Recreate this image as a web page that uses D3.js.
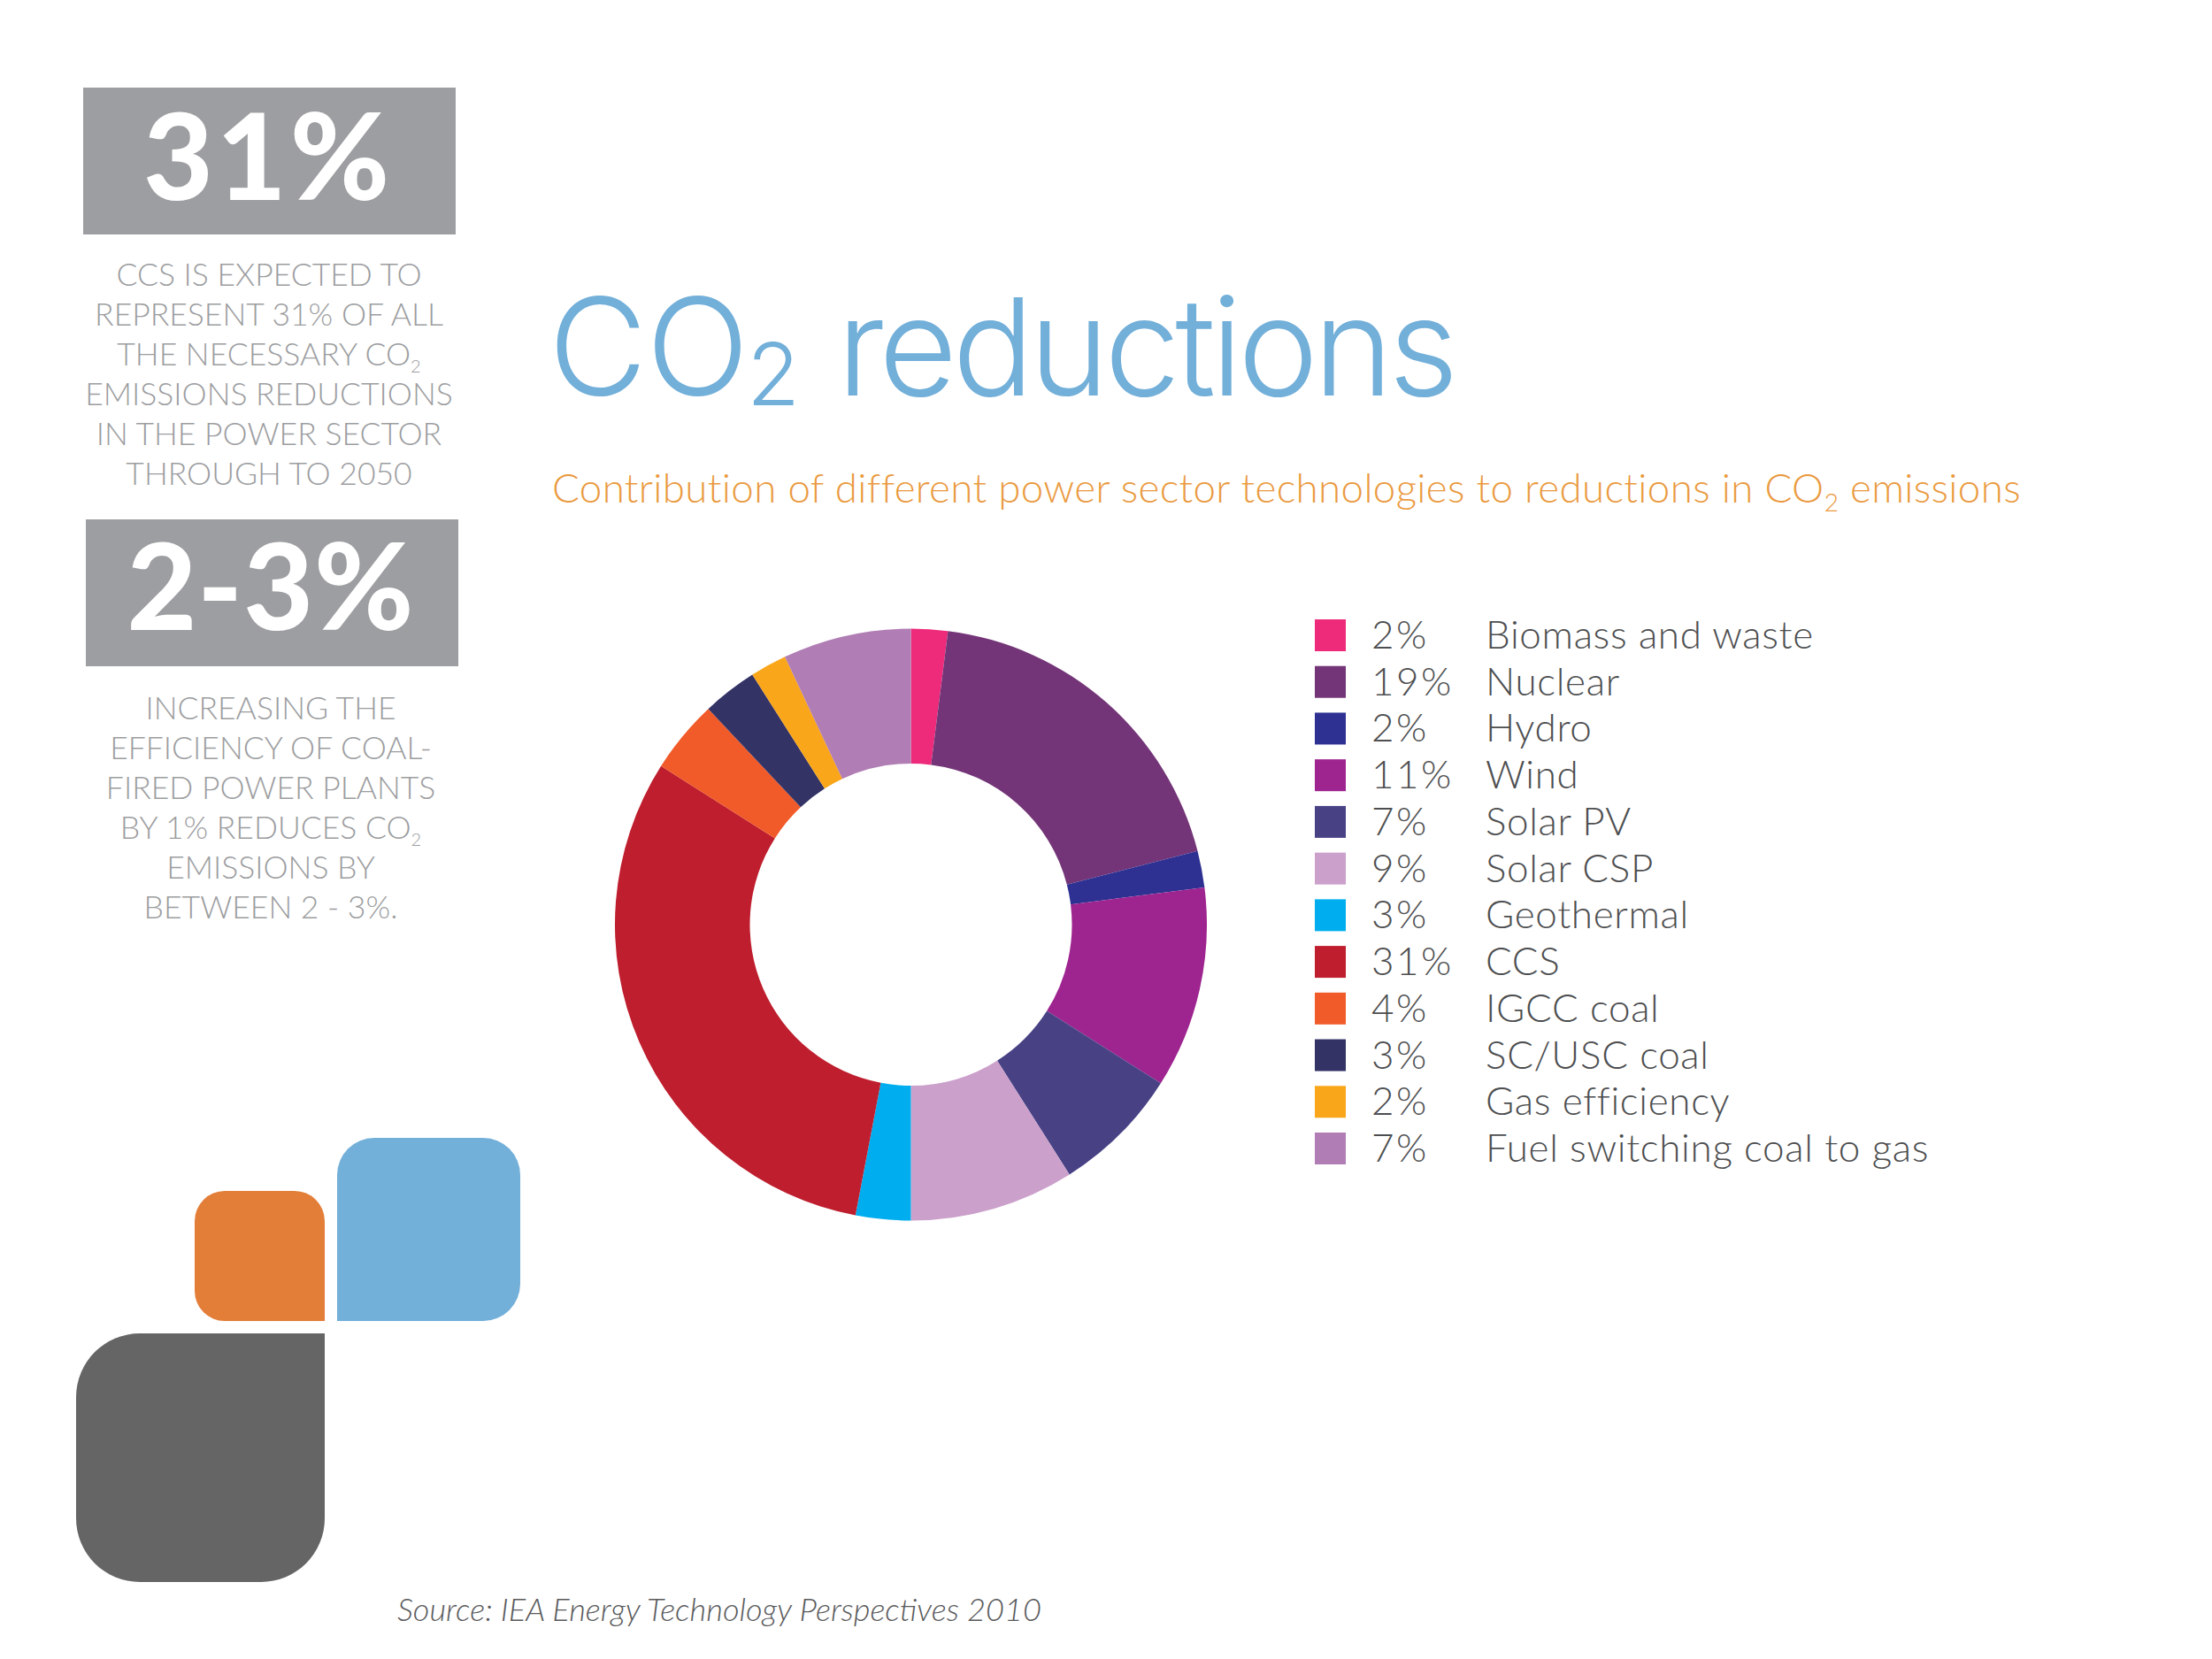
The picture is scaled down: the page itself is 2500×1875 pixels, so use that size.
<!DOCTYPE html>
<html>
<head>
<meta charset="utf-8">
<script src="https://cdn.jsdelivr.net/npm/d3@7"></script>
<style>
  html, body { margin: 0; background: #fff; }
  text { font-family: Lato, sans-serif; }
</style>
</head>
<body>
<div id="chart"></div>
<script>
const categories = ["Biomass and waste", "Nuclear", "Hydro", "Wind", "Solar PV", "Solar CSP",
  "Geothermal", "CCS", "IGCC coal", "SC/USC coal", "Gas efficiency", "Fuel switching coal to gas"];
const shares = [2, 19, 2, 11, 7, 9, 3, 31, 4, 3, 2, 7];
const colors = ["#ee2a7b", "#743578", "#2e3192", "#9e248f", "#484285", "#cba0cb",
  "#00aeef", "#be1e2d", "#f15a29", "#333366", "#faa61a", "#b07db4"];

const note1 = ["CCS IS EXPECTED TO", "REPRESENT 31% OF ALL", "THE NECESSARY CO|2", "EMISSIONS REDUCTIONS", "IN THE POWER SECTOR", "THROUGH TO 2050"];
const note2 = ["INCREASING THE", "EFFICIENCY OF COAL-", "FIRED POWER PLANTS", "BY 1% REDUCES CO|2", "EMISSIONS BY", "BETWEEN 2 - 3%."];

const svg = d3.select("#chart").append("svg")
    .attr("width", 2500)
    .attr("height", 1875)

// text with an optional subscript after the | mark
function addText(x, y, str, size, fill, anchor, weight, subSize, subDrop) {
    const t = svg.append("text")
        .attr("x", x).attr("y", y)
        .attr("font-size", size)
        .attr("font-weight", weight)
        .attr("fill", fill)
        .attr("text-anchor", anchor)
    const parts = str.split("|")
    t.append("tspan").text(parts[0])
    if (parts.length > 1) {
        t.append("tspan").attr("dy", subDrop).attr("font-size", subSize).text(parts[1])
        if (parts[2]) t.append("tspan").attr("dy", -subDrop).text(parts[2])
    }
    return t
}

// grey stat boxes
svg.append("rect").attr("x", 94).attr("y", 99).attr("width", 421).attr("height", 166).attr("fill", "#9d9ea1")
svg.append("rect").attr("x", 97).attr("y", 587).attr("width", 421).attr("height", 166).attr("fill", "#9d9ea1")
addText(303, 226, "31%", 136, "#fff", "middle", 900).style("letter-spacing", "4px")
addText(306, 712, "2-3%", 136, "#fff", "middle", 900).style("letter-spacing", "1px")

const lineStep = 45
note1.forEach((s, i) => addText(304, 323 + i * lineStep, s, 35.5, "#9c9da0", "middle", 300, 20, 8))
note2.forEach((s, i) => addText(306, 813 + i * lineStep, s, 35.5, "#9c9da0", "middle", 300, 20, 8))

// title block, Inter light is the nearest to the original face
const title = svg.append("text").attr("y", 447)
    .attr("font-size", 153).attr("fill", "#72afd9")
    .style("font-family", "Inter, sans-serif").attr("font-weight", 300)
title.append("tspan").attr("x", 620).style("letter-spacing", "-1px").text("CO")
title.append("tspan").attr("x", 844).attr("dy", 11).attr("font-size", 98).text("2")
title.append("tspan").attr("x", 946).attr("dy", -11).style("letter-spacing", "-5.3px").text("reductions")

addText(624, 568, "Contribution of different power sector technologies to reductions in CO|2| emissions", 45.7, "#ea9a40", "start", 300, 28, 10)
    .style("letter-spacing", "0.35px")

// donut
const pie = d3.pie().sort(null).value(d => d)
const arc = d3.arc().innerRadius(182).outerRadius(334.5)
svg.append("g")
    .attr("transform", "translate(1029.5,1045)")
    .selectAll("path")
    .data(pie(shares))
    .enter()
    .append("path")
        .attr("d", arc)
        .attr("fill", (d, i) => colors[i])

// legend
const rowY = d3.scalePoint().domain(categories).range([718, 1298])
const rows = svg.append("g").selectAll("g")
    .data(categories)
    .enter()
    .append("g")
        .attr("transform", d => `translate(0,${rowY(d)})`)
rows.append("rect")
    .attr("x", 1486).attr("y", -18).attr("width", 35).attr("height", 36)
    .attr("fill", (d, i) => colors[i])
rows.append("text")
    .attr("x", 1550).attr("y", 15)
    .attr("font-size", 44).attr("font-weight", 300).attr("fill", "#4d4e50")
    .style("letter-spacing", "2.5px")
    .text((d, i) => shares[i] + "%")
rows.append("text")
    .attr("x", 1679).attr("y", 15)
    .attr("font-size", 44).attr("font-weight", 300).attr("fill", "#4d4e50")
    .style("letter-spacing", "0.65px")
    .text(d => d)

// logo blocks, one square corner each
function block(x, y, size, r, fill, square) {
    const rr = c => c === square ? 0 : r
    const p = d3.path()
    p.moveTo(x + rr("tl"), y)
    p.lineTo(x + size - rr("tr"), y)
    p.arcTo(x + size, y, x + size, y + rr("tr"), rr("tr"))
    p.lineTo(x + size, y + size - rr("br"))
    p.arcTo(x + size, y + size, x + size - rr("br"), y + size, rr("br"))
    p.lineTo(x + rr("bl"), y + size)
    p.arcTo(x, y + size, x, y + size - rr("bl"), rr("bl"))
    p.lineTo(x, y + rr("tl"))
    p.arcTo(x, y, x + rr("tl"), y, rr("tl"))
    p.closePath()
    svg.append("path").attr("d", p.toString()).attr("fill", fill)
}
block(381, 1286, 207, 42, "#72afd9", "bl")
block(220, 1346, 147, 34, "#e37e39", "br")
block(86, 1507, 281, 72, "#656565", "tr")

addText(449, 1832, "Source: IEA Energy Technology Perspectives 2010", 36.2, "#58595b", "start", 300).style("font-style", "italic")
</script>
</body>
</html>
